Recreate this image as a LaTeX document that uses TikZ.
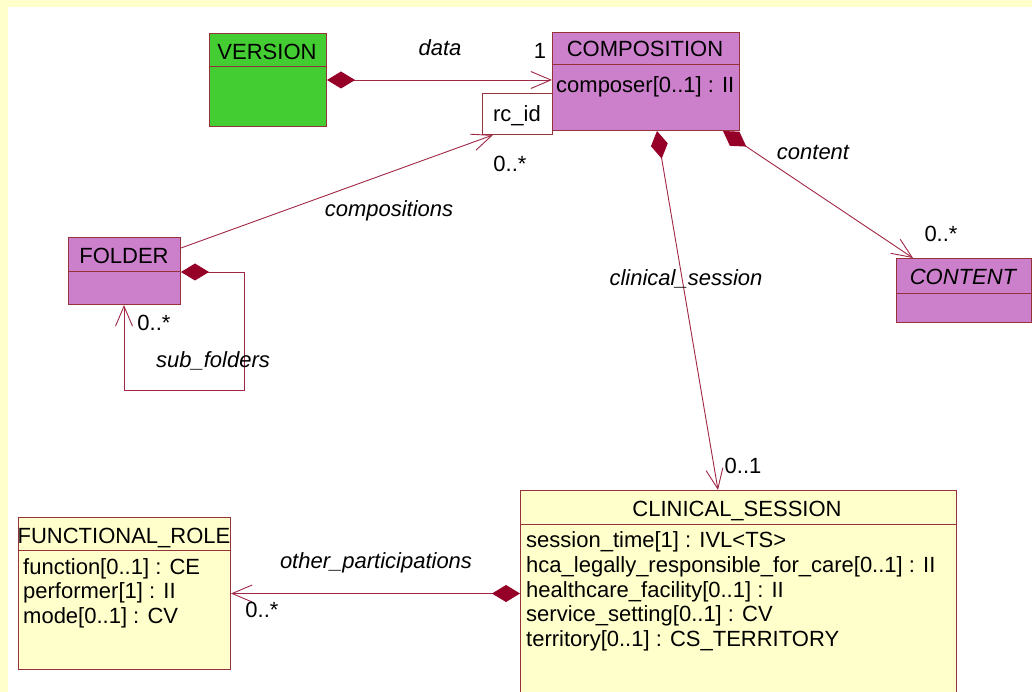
\documentclass[tikz,border=0pt]{standalone}
\usepackage{fontspec}
\setmainfont{Liberation Sans}
\usetikzlibrary{arrows.meta,calc}
\definecolor{umlline}{RGB}{160,40,70}
\definecolor{umlborder}{RGB}{150,50,60}
\definecolor{diacol}{RGB}{150,0,40}
\definecolor{purp}{RGB}{204,128,204}
\definecolor{grn}{RGB}{68,204,51}
\definecolor{yel}{RGB}{255,255,204}
\definecolor{band}{RGB}{255,255,204}
\begin{document}
\begin{tikzpicture}[x=1pt,y=-1pt,
  font=\fontsize{22}{25}\selectfont,
  box/.style={draw=umlborder, line width=1pt, inner sep=0pt, anchor=north west},
  txt/.style={inner sep=0pt, anchor=base},
  ltxt/.style={inner sep=0pt, anchor=base west},
  lbl/.style={inner sep=0pt, anchor=base, font=\fontsize{22}{25}\selectfont\itshape},
  divider/.style={draw=umlborder, line width=1pt},
  assoc/.style={draw=umlline, line width=0.9pt,
    {Diamond[length=28pt,width=17pt,fill=diacol,color=diacol]}-{Straight Barb[length=20pt,width=17pt]}},
  nav/.style={draw=umlline, line width=0.9pt, -{Straight Barb[length=20pt,width=17pt]}}]
\useasboundingbox (0,0) rectangle (1032,692);
\clip (0,0) rectangle (1032,692);
\fill[white] (0,0) rectangle (1032,692);
\fill[band] (0,0) rectangle (1032,7);
\fill[band] (0,0) rectangle (8,692);

% boxes
\node[box, fill=grn, minimum width=117pt, minimum height=93pt] (version) at (209,33) {};
\node[box, fill=purp, minimum width=187pt, minimum height=98pt] (comp) at (552,32) {};
\node[box, fill=white, minimum width=70pt, minimum height=41pt] (rcid) at (482,93) {};
\node[box, fill=purp, minimum width=112pt, minimum height=67pt] (folder) at (68,237) {};
\node[box, fill=purp, minimum width=135pt, minimum height=64pt] (content) at (896,258) {};
\node[box, fill=yel, minimum width=436pt, minimum height=220pt] (cs) at (520,490) {};
\node[box, fill=yel, minimum width=212pt, minimum height=152pt] (fr) at (18,517) {};

% dividers
\draw[divider] (version.west |- 0,67) -- (version.east |- 0,67);
\draw[divider] (comp.west |- 0,65) -- (comp.east |- 0,65);
\draw[divider] (folder.west |- 0,272) -- (folder.east |- 0,272);
\draw[divider] (content.west |- 0,293) -- (content.east |- 0,293);
\draw[divider] (cs.west |- 0,524) -- (cs.east |- 0,524);
\draw[divider] (fr.west |- 0,550) -- (fr.east |- 0,550);

% box texts
\node[txt] (tversion) at (267,60) {VERSION};
\node[txt] (tcomp) at (645,57) {COMPOSITION};
\node[ltxt] (acomp) at (556,93) {composer[0..1] : II};
\node[txt] (trcid) at (517,122) {rc\_id};
\node[txt] (tfolder) at (124,264) {FOLDER};
\node[txt, font=\fontsize{22}{25}\selectfont\itshape] (tcontent) at (963,285) {CONTENT};
\node[txt] (tcs) at (737,516) {CLINICAL\_SESSION};
\node[ltxt] (acs1) at (526,547) {session\_time[1] : IVL<TS>};
\node[ltxt] (acs2) at (526,572) {hca\_legally\_responsible\_for\_care[0..1] : II};
\node[ltxt] (acs3) at (526,597) {healthcare\_facility[0..1] : II};
\node[ltxt] (acs4) at (526,621) {service\_setting[0..1] : CV};
\node[ltxt] (acs5) at (526,646) {territory[0..1] : CS\_TERRITORY};
\node[txt] (tfr) at (124,543) {FUNCTIONAL\_ROLE};
\node[ltxt] (afr1) at (23,574) {function[0..1] : CE};
\node[ltxt] (afr2) at (23,598) {performer[1] : II};
\node[ltxt] (afr3) at (23,623) {mode[0..1] : CV};

% connectors
\draw[assoc] (version.east) -- (version.east -| comp.west);
\draw[nav] ($(folder.north east)+(0,11)$) -- ($(rcid.south west)+(11,0)$);
\draw[assoc] (folder.east |- 0,272) -- ++(63,0) -- ++(0,118) -| ($(folder.south west)+(56,0)$);
\draw[assoc] ($(comp.south west)+(105,0)$) -- ($(cs.north west)+(198,0)$);
\draw[assoc] ($(comp.south east)+(-17,0)$) -- ($(content.north west)+(17,0)$);
\draw[assoc] (cs.west |- fr.east) -- (fr.east);

% connector labels
\node[lbl] (ldata) at (440,56) {data};
\node[txt] (mdata) at (540,59) {1};
\node[lbl] (lcomps) at (389,217) {compositions};
\node[txt] (mcomps) at (510,172) {0..*};
\node[txt] (msub) at (154,330) {0..*};
\node[lbl] (lsub) at (213,367) {sub\_folders};
\node[lbl] (lcont) at (813,160) {content};
\node[txt] (mcont) at (941,242) {0..*};
\node[lbl] (lcls) at (686,286) {clinical\_session};
\node[txt] (mcls) at (743,473) {0..1};
\node[lbl] (lother) at (376,568) {other\_participations};
\node[txt] (mother) at (262,617) {0..*};
\end{tikzpicture}
\end{document}
